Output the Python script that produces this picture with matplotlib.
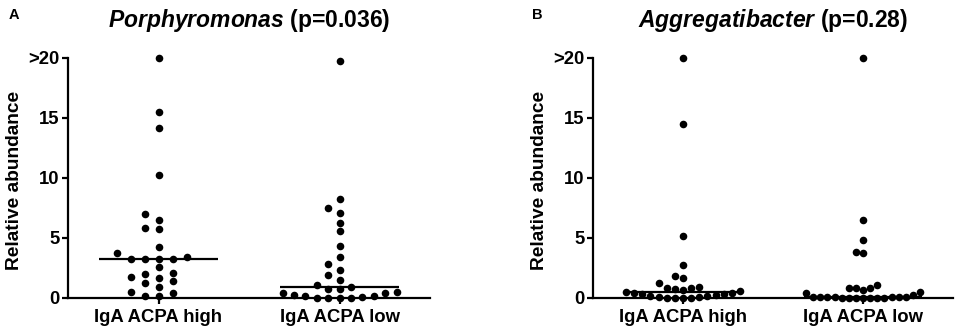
import numpy as np
import matplotlib
matplotlib.use("Agg")
import matplotlib.pyplot as plt

plt.rcParams['font.family'] = ['Liberation Sans', 'DejaVu Sans']
plt.rcParams['mathtext.fontset'] = 'custom'
plt.rcParams['mathtext.rm'] = 'Liberation Sans'
plt.rcParams['mathtext.bf'] = 'Liberation Sans:bold'
plt.rcParams['mathtext.it'] = 'Liberation Sans:italic'
plt.rcParams['mathtext.bfit'] = 'Liberation Sans:italic:bold'

# ---------------- data ----------------
groups = ["IgA ACPA high", "IgA ACPA low"]
ytick_vals = [0, 5, 10, 15, 20]
ytick_labels = ["0", "5", "10", "15", ">20"]

porph_high = [20.0, 15.5, 14.2, 10.25, 6.97, 6.5, 5.8, 5.72, 4.25, 3.72, 3.44,
              3.22, 3.22, 3.22, 3.22, 2.56, 2.11, 2.0, 1.78, 1.64, 1.42, 1.22,
              0.94, 0.47, 0.39, 0.17, 0.17]
porph_low = [19.75, 8.25, 7.47, 7.06, 6.28, 5.58, 4.36, 3.42, 2.86, 2.36, 1.92,
             1.53, 1.08, 0.94, 0.72, 0.72, 0.47, 0.42, 0.42, 0.28, 0.19, 0.19,
             0.11, 0.0, 0.0, 0.0, 0.0]
aggr_high = [20.0, 14.5, 5.2, 2.75, 1.83, 1.64, 1.28, 0.9, 0.85, 0.8, 0.78, 0.7,
             0.6, 0.47, 0.45, 0.4, 0.35, 0.3, 0.25, 0.2, 0.15, 0.1, 0.05, 0.03,
             0.02, 0.01, 0.0]
aggr_low = [20.0, 6.5, 4.8, 3.85, 3.75, 1.05, 0.86, 0.86, 0.86, 0.7, 0.5, 0.4,
            0.25, 0.12, 0.1, 0.09, 0.08, 0.07, 0.06, 0.05, 0.04, 0.03, 0.02,
            0.02, 0.01, 0.0, 0.0]

panels = [
    dict(letter="A", genus="Porphyromonas", p="p=0.036", data=[porph_high, porph_low]),
    dict(letter="B", genus="Aggregatibacter", p="p=0.28", data=[aggr_high, aggr_low]),
]

# ---------------- layout ----------------
W, H = 957, 332
fig = plt.figure(figsize=(W / 100, H / 100), dpi=100)

axes_px = [(68, 362), (593, 360)]   # left, width in pixels
bottom_px, height_px = 34, 240
letter_x = [14, 537]
ylabel_x = [15, 539]

dot_diam_px = 7.3
base_step_px = 14.0
limit_px = 57.0


def swarm_slots(y_px, diam):
    order = np.argsort(y_px, kind="stable")
    placed = {}
    slots = np.zeros(len(y_px), dtype=int)
    cands = [0]
    for k in range(1, 60):
        cands += [-k, k]
    for i in order:
        y = y_px[i]
        for k in cands:
            if all(abs(y - yy) >= diam for yy in placed.get(k, [])):
                placed.setdefault(k, []).append(y)
                slots[i] = k
                break
    return slots


for pi, panel in enumerate(panels):
    lx, wx = axes_px[pi]
    ax = fig.add_axes([lx / W, bottom_px / H, wx / W, height_px / H])
    ax.set_xlim(-0.5, 1.5)
    ax.set_ylim(0, 20)
    for s in ["top", "right"]:
        ax.spines[s].set_visible(False)
    for s in ["left", "bottom"]:
        ax.spines[s].set_linewidth(1.6)
    ax.spines["left"].set_bounds(0, 20)

    px_per_x = wx / 2.0
    px_per_y = height_px / 20.0
    for gi, vals in enumerate(panel["data"]):
        vals = np.asarray(vals, dtype=float)
        slots = swarm_slots(vals * px_per_y, dot_diam_px)
        kmax = max(1, np.abs(slots).max())
        step = min(base_step_px, limit_px / kmax)
        xs = gi + slots * step / px_per_x
        ax.scatter(xs, vals, s=30, color="black", zorder=3, clip_on=False,
                   linewidths=0)
        med = np.median(vals)
        ax.plot([gi - 0.33, gi + 0.33], [med, med], color="black", lw=1.6,
                zorder=2, solid_capstyle="butt", clip_on=False)

    ax.set_xticks([0, 1])
    ax.set_xticklabels(groups, fontsize=13.3, fontweight="bold")
    ax.set_yticks(ytick_vals)
    ax.set_yticklabels(ytick_labels, fontsize=13.3, fontweight="bold")
    ax.tick_params(axis="both", direction="out", length=4, width=1.6, pad=2)
    ax.tick_params(axis="x", pad=4)

    fig.text(letter_x[pi] / W, 1 - 15 / H, panel["letter"], fontsize=10.5,
             fontweight="bold", ha="center", va="center")
    fig.text(ylabel_x[pi] / W, (bottom_px + height_px / 2 - 2) / H,
             "Relative abundance", rotation=90, fontsize=13.8,
             fontweight="bold", ha="center", va="center")
    title = r"$\mathbfit{" + panel["genus"] + r"}$ (" + panel["p"] + ")"
    fig.text((lx + wx / 2) / W, 1 - 20 / H, title, fontsize=16.5,
             fontweight="bold", ha="center", va="center")

fig.savefig("out.png", dpi=100)
